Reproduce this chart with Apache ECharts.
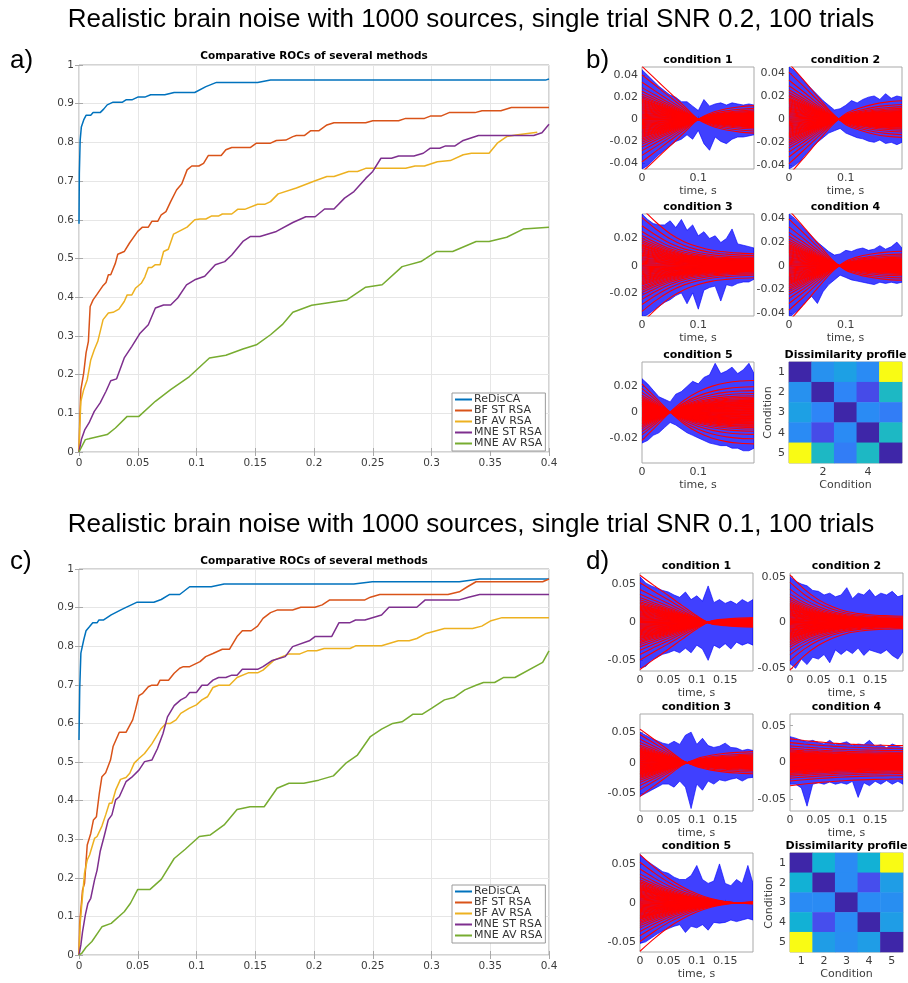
<!DOCTYPE html>
<html>
<head>
<meta charset="utf-8">
<script src="https://cdn.jsdelivr.net/npm/echarts@6/dist/echarts.min.js"></script>
<style>
  html, body { margin: 0; padding: 0; background: #fff; }
  #main { width: 908px; height: 983px; }
</style>
</head>
<body>
<div id="main"></div>
<script>
// ---------- data ----------
var methodNames = ['ReDisCA', 'BF ST RSA', 'BF AV RSA', 'MNE ST RSA', 'MNE AV RSA'];

// ROC curves, panel a (SNR 0.2)
var rocA_redisca = [[0,0.59],[0.0003,0.72],[0.001,0.806],[0.002,0.84],[0.004,0.858],[0.006,0.87],[0.01,0.87],[0.012,0.877],[0.018,0.877],[0.021,0.886],[0.024,0.897],[0.029,0.904],[0.037,0.904],[0.04,0.91],[0.045,0.91],[0.05,0.917],[0.056,0.917],[0.061,0.923],[0.073,0.923],[0.081,0.929],[0.0985,0.929],[0.108,0.944],[0.117,0.955],[0.152,0.955],[0.163,0.961],[0.397,0.961],[0.4,0.964]];
var rocA_bfst = [[0,0],[0.0006,0.075],[0.0016,0.161],[0.004,0.204],[0.006,0.256],[0.008,0.286],[0.0095,0.376],[0.012,0.393],[0.015,0.406],[0.02,0.428],[0.023,0.438],[0.025,0.458],[0.027,0.458],[0.031,0.488],[0.033,0.511],[0.0385,0.518],[0.043,0.54],[0.05,0.57],[0.054,0.581],[0.059,0.581],[0.062,0.596],[0.067,0.596],[0.07,0.613],[0.074,0.621],[0.078,0.647],[0.083,0.677],[0.0875,0.693],[0.092,0.729],[0.096,0.739],[0.102,0.739],[0.106,0.746],[0.11,0.766],[0.121,0.766],[0.125,0.781],[0.13,0.787],[0.146,0.787],[0.151,0.798],[0.163,0.798],[0.168,0.805],[0.176,0.806],[0.182,0.815],[0.185,0.818],[0.192,0.818],[0.197,0.83],[0.204,0.83],[0.211,0.845],[0.217,0.851],[0.244,0.851],[0.25,0.856],[0.272,0.856],[0.278,0.862],[0.294,0.862],[0.299,0.868],[0.308,0.868],[0.315,0.877],[0.337,0.877],[0.343,0.882],[0.359,0.882],[0.368,0.89],[0.4,0.89]];
var rocA_bfav = [[0,0],[0.0006,0.062],[0.0016,0.131],[0.004,0.161],[0.007,0.187],[0.01,0.238],[0.013,0.264],[0.016,0.286],[0.0205,0.342],[0.025,0.359],[0.029,0.361],[0.034,0.369],[0.0385,0.389],[0.041,0.406],[0.045,0.406],[0.048,0.423],[0.053,0.436],[0.056,0.452],[0.059,0.477],[0.062,0.477],[0.065,0.484],[0.069,0.484],[0.072,0.518],[0.076,0.524],[0.0805,0.563],[0.0875,0.574],[0.092,0.581],[0.0985,0.6],[0.103,0.602],[0.108,0.602],[0.113,0.61],[0.119,0.61],[0.122,0.615],[0.13,0.615],[0.135,0.627],[0.141,0.627],[0.152,0.64],[0.158,0.64],[0.163,0.647],[0.1695,0.667],[0.185,0.682],[0.201,0.701],[0.211,0.712],[0.217,0.712],[0.2295,0.725],[0.237,0.725],[0.244,0.733],[0.278,0.733],[0.286,0.739],[0.294,0.739],[0.305,0.75],[0.316,0.753],[0.327,0.768],[0.334,0.772],[0.349,0.772],[0.356,0.798],[0.364,0.815],[0.372,0.819],[0.39,0.826]];
var rocA_mnest = [[0,0],[0.002,0.032],[0.005,0.058],[0.0085,0.075],[0.013,0.105],[0.018,0.127],[0.023,0.157],[0.027,0.184],[0.032,0.189],[0.0385,0.243],[0.045,0.273],[0.052,0.307],[0.059,0.329],[0.065,0.372],[0.072,0.38],[0.078,0.38],[0.084,0.398],[0.0915,0.432],[0.0985,0.445],[0.107,0.454],[0.116,0.484],[0.124,0.492],[0.13,0.509],[0.1395,0.544],[0.146,0.557],[0.154,0.557],[0.168,0.57],[0.182,0.593],[0.193,0.608],[0.201,0.608],[0.209,0.628],[0.217,0.628],[0.226,0.656],[0.234,0.673],[0.244,0.707],[0.25,0.725],[0.257,0.759],[0.266,0.759],[0.272,0.765],[0.285,0.765],[0.293,0.772],[0.299,0.785],[0.307,0.785],[0.312,0.791],[0.32,0.791],[0.327,0.805],[0.34,0.818],[0.387,0.818],[0.394,0.825],[0.4,0.847]];
var rocA_mneav = [[0,0],[0.0054,0.032],[0.0085,0.034],[0.024,0.045],[0.031,0.062],[0.041,0.092],[0.051,0.092],[0.065,0.131],[0.078,0.161],[0.094,0.195],[0.111,0.243],[0.125,0.25],[0.1395,0.266],[0.151,0.277],[0.163,0.303],[0.173,0.329],[0.182,0.361],[0.198,0.379],[0.211,0.385],[0.228,0.393],[0.244,0.426],[0.258,0.432],[0.275,0.479],[0.291,0.492],[0.304,0.518],[0.318,0.518],[0.338,0.544],[0.349,0.544],[0.364,0.555],[0.378,0.576],[0.4,0.581]];

// ROC curves, panel c (SNR 0.1)
var rocC_redisca = [[0,0.557],[0.0006,0.687],[0.0016,0.782],[0.004,0.816],[0.006,0.84],[0.0085,0.849],[0.0117,0.861],[0.0155,0.861],[0.017,0.868],[0.021,0.868],[0.0274,0.881],[0.0369,0.896],[0.0495,0.914],[0.0637,0.914],[0.07,0.921],[0.0772,0.934],[0.0857,0.934],[0.0942,0.954],[0.1125,0.954],[0.1235,0.961],[0.2339,0.961],[0.2496,0.967],[0.3237,0.967],[0.341,0.974],[0.4,0.974]];
var rocC_bfst = [[0,0],[0.0006,0.082],[0.003,0.168],[0.0047,0.186],[0.007,0.285],[0.01,0.315],[0.0123,0.35],[0.0148,0.358],[0.0173,0.419],[0.0195,0.462],[0.0227,0.472],[0.0268,0.505],[0.029,0.54],[0.0343,0.577],[0.04,0.577],[0.0457,0.609],[0.048,0.635],[0.051,0.672],[0.0542,0.678],[0.059,0.695],[0.062,0.699],[0.0668,0.699],[0.069,0.712],[0.0762,0.712],[0.081,0.73],[0.0857,0.743],[0.0888,0.747],[0.0942,0.747],[0.103,0.76],[0.1078,0.773],[0.114,0.781],[0.122,0.792],[0.128,0.792],[0.1345,0.825],[0.139,0.84],[0.1465,0.84],[0.152,0.852],[0.1566,0.872],[0.163,0.887],[0.169,0.894],[0.1818,0.894],[0.1888,0.901],[0.2008,0.901],[0.207,0.907],[0.2134,0.92],[0.2433,0.92],[0.248,0.927],[0.256,0.934],[0.314,0.934],[0.3237,0.941],[0.3306,0.954],[0.3379,0.967],[0.3946,0.967],[0.4,0.974]];
var rocC_bfav = [[0,0],[0.001,0.082],[0.0022,0.125],[0.0047,0.212],[0.007,0.246],[0.009,0.259],[0.0132,0.302],[0.0154,0.307],[0.0195,0.334],[0.0227,0.363],[0.0258,0.393],[0.028,0.393],[0.0312,0.427],[0.0353,0.455],[0.04,0.46],[0.0432,0.471],[0.047,0.497],[0.051,0.509],[0.0558,0.522],[0.062,0.547],[0.07,0.587],[0.074,0.6],[0.0778,0.6],[0.0826,0.609],[0.0866,0.626],[0.0936,0.639],[0.0999,0.648],[0.1046,0.661],[0.1093,0.669],[0.114,0.693],[0.1188,0.699],[0.128,0.699],[0.1345,0.719],[0.144,0.731],[0.152,0.731],[0.1566,0.738],[0.166,0.764],[0.1787,0.78],[0.188,0.78],[0.1944,0.788],[0.2023,0.788],[0.2086,0.794],[0.2307,0.794],[0.2354,0.801],[0.2575,0.801],[0.2717,0.814],[0.281,0.814],[0.2875,0.82],[0.2955,0.833],[0.311,0.846],[0.3349,0.846],[0.3428,0.852],[0.3507,0.866],[0.3601,0.874],[0.4,0.874]];
var rocC_mnest = [[0,0],[0.0016,0.026],[0.003,0.06],[0.0054,0.104],[0.0076,0.134],[0.01,0.147],[0.0132,0.194],[0.0154,0.22],[0.018,0.268],[0.0217,0.311],[0.0249,0.35],[0.028,0.363],[0.0312,0.402],[0.0343,0.41],[0.04,0.449],[0.0447,0.46],[0.051,0.479],[0.0558,0.501],[0.062,0.505],[0.0668,0.535],[0.0715,0.574],[0.0753,0.617],[0.081,0.646],[0.0866,0.661],[0.091,0.668],[0.0942,0.68],[0.0999,0.68],[0.1046,0.699],[0.1093,0.699],[0.114,0.712],[0.1188,0.719],[0.125,0.719],[0.13,0.725],[0.1345,0.725],[0.139,0.74],[0.152,0.74],[0.1566,0.747],[0.1645,0.763],[0.1755,0.773],[0.1818,0.799],[0.196,0.814],[0.2008,0.825],[0.215,0.825],[0.2213,0.861],[0.2307,0.861],[0.2354,0.868],[0.2433,0.868],[0.2575,0.881],[0.2638,0.901],[0.2875,0.901],[0.2947,0.92],[0.3237,0.92],[0.3316,0.927],[0.341,0.934],[0.4,0.934]];
var rocC_mneav = [[0,0],[0.0022,0.004],[0.006,0.02],[0.011,0.035],[0.0195,0.073],[0.0274,0.082],[0.0385,0.112],[0.0438,0.134],[0.05,0.17],[0.0605,0.17],[0.07,0.196],[0.081,0.25],[0.0904,0.274],[0.1024,0.307],[0.1118,0.311],[0.1235,0.337],[0.1345,0.377],[0.1456,0.384],[0.1576,0.384],[0.1686,0.432],[0.1787,0.445],[0.1913,0.445],[0.204,0.453],[0.2165,0.464],[0.2275,0.498],[0.237,0.518],[0.248,0.566],[0.2575,0.585],[0.267,0.6],[0.2749,0.604],[0.2843,0.624],[0.2922,0.624],[0.3,0.639],[0.311,0.661],[0.319,0.667],[0.3284,0.687],[0.3379,0.699],[0.3442,0.706],[0.3537,0.706],[0.3615,0.719],[0.371,0.719],[0.3946,0.758],[0.4,0.788]];

// waveform panels: red fan = amplitude x time course, blue = noisy envelope
var fanTimes = [0, 0.025, 0.05, 0.075, 0.1, 0.125, 0.15, 0.175, 0.199];
var fanAmps = [1.0, 0.84, 0.7, 0.6, 0.53, 0.48, 0.44, 0.41, 0.38, 0.36, 0.34, 0.32, 0.3, 0.28, 0.26, 0.24, 0.22, 0.2, 0.18, 0.16, 0.14, 0.12, 0.1, 0.08, 0.06, 0.04, 0.02, 0.0, -0.02, -0.04, -0.06, -0.08, -0.1, -0.12, -0.14, -0.16, -0.18, -0.2, -0.22, -0.24, -0.26, -0.28, -0.3, -0.32, -0.34, -0.37, -0.4, -0.43, -0.47, -0.52, -0.59, -0.68, -0.8, -1.0];
var bandTimes = [0, 0.01, 0.02, 0.03, 0.04, 0.05, 0.06, 0.07, 0.08, 0.09, 0.1, 0.11, 0.12, 0.13, 0.14, 0.15, 0.16, 0.17, 0.18, 0.19, 0.199];

var tcB1 = [1, 0.75, 0.5, 0.25, 0, -0.13, -0.2, -0.24, -0.26];
var tcB2 = [1, 0.71, 0.41, 0.12, -0.1, -0.2, -0.27, -0.31, -0.33];
var tcB3 = [1, 0.76, 0.56, 0.42, 0.33, 0.27, 0.24, 0.22, 0.21];
var tcB4 = [1, 0.71, 0.41, 0.12, -0.08, -0.17, -0.22, -0.25, -0.26];
var tcB5 = [1, 0.5, 0, -0.42, -0.72, -0.92, -1.04, -1.1, -1.12];
var tcD1 = [1, 0.78, 0.57, 0.35, 0.14, -0.03, -0.07, -0.09, -0.1];
var tcD2 = [1, 0.7, 0.48, 0.33, 0.23, 0.18, 0.15, 0.14, 0.13];
var tcD3 = [1, 0.69, 0.38, 0.07, -0.12, -0.22, -0.28, -0.31, -0.33];
var tcD4 = [1, 0.93, 0.87, 0.82, 0.78, 0.75, 0.73, 0.72, 0.71];
var tcD5 = [1, 0.74, 0.51, 0.33, 0.19, 0.09, 0.03, 0.0, -0.02];
var fanScaleB = [0.048, 0.048, 0.042, 0.047, 0.022];
var fanScaleD = [0.062, 0.052, 0.055, 0.032, 0.062];

var upB1 = [0.045, 0.04, 0.035, 0.03, 0.026, 0.022, 0.02, 0.016, 0.016, 0.012, 0.008, 0.018, 0.012, 0.014, 0.015, 0.013, 0.015, 0.014, 0.013, 0.014, 0.013];
var loB1 = [-0.045, -0.042, -0.037, -0.032, -0.028, -0.024, -0.02, -0.018, -0.014, -0.018, -0.01, -0.022, -0.028, -0.016, -0.02, -0.022, -0.018, -0.016, -0.016, -0.015, -0.014];
var upB2 = [0.045, 0.042, 0.037, 0.031, 0.026, 0.021, 0.016, 0.012, 0.008, 0.009, 0.012, 0.016, 0.014, 0.017, 0.019, 0.02, 0.017, 0.022, 0.018, 0.02, 0.019];
var loB2 = [-0.043, -0.04, -0.036, -0.03, -0.025, -0.02, -0.016, -0.012, -0.01, -0.008, -0.012, -0.014, -0.016, -0.017, -0.019, -0.02, -0.018, -0.021, -0.02, -0.022, -0.02];
var upB3 = [0.038, 0.034, 0.031, 0.03, 0.03, 0.033, 0.028, 0.034, 0.026, 0.03, 0.022, 0.025, 0.02, 0.022, 0.017, 0.02, 0.027, 0.016, 0.015, 0.014, 0.013];
var loB3 = [-0.038, -0.036, -0.033, -0.03, -0.027, -0.025, -0.022, -0.02, -0.028, -0.02, -0.032, -0.018, -0.016, -0.015, -0.026, -0.014, -0.015, -0.013, -0.012, -0.012, -0.01];
var upB4 = [0.044, 0.04, 0.035, 0.03, 0.025, 0.02, 0.016, 0.012, 0.009, 0.01, 0.013, 0.012, 0.014, 0.015, 0.013, 0.014, 0.017, 0.014, 0.016, 0.02, 0.015];
var loB4 = [-0.044, -0.04, -0.036, -0.03, -0.026, -0.032, -0.022, -0.016, -0.012, -0.008, -0.01, -0.012, -0.013, -0.014, -0.015, -0.016, -0.014, -0.015, -0.014, -0.015, -0.014];
var upB5 = [0.026, 0.022, 0.017, 0.012, 0.01, 0.008, 0.014, 0.016, 0.02, 0.024, 0.022, 0.027, 0.029, 0.038, 0.03, 0.032, 0.035, 0.03, 0.033, 0.038, 0.03];
var loB5 = [-0.024, -0.022, -0.018, -0.016, -0.012, -0.008, -0.01, -0.013, -0.016, -0.018, -0.02, -0.022, -0.024, -0.025, -0.026, -0.026, -0.028, -0.028, -0.03, -0.03, -0.028];
var upD1 = [0.06, 0.052, 0.048, 0.045, 0.042, 0.04, 0.036, 0.033, 0.04, 0.03, 0.035, 0.028, 0.048, 0.026, 0.03, 0.025, 0.028, 0.024, 0.03, 0.026, 0.03];
var loD1 = [-0.06, -0.058, -0.05, -0.046, -0.042, -0.04, -0.037, -0.04, -0.034, -0.04, -0.03, -0.035, -0.05, -0.03, -0.034, -0.028, -0.035, -0.026, -0.03, -0.027, -0.03];
var upD2 = [0.05, 0.045, 0.042, 0.04, 0.035, 0.034, 0.03, 0.032, 0.028, 0.03, 0.038, 0.026, 0.032, 0.03, 0.036, 0.028, 0.032, 0.03, 0.034, 0.028, 0.03];
var loD2 = [-0.045, -0.05, -0.04, -0.046, -0.038, -0.04, -0.035, -0.044, -0.03, -0.035, -0.03, -0.034, -0.028, -0.036, -0.03, -0.032, -0.034, -0.03, -0.036, -0.04, -0.032];
var upD3 = [0.05, 0.045, 0.04, 0.036, 0.032, 0.03, 0.035, 0.03, 0.045, 0.05, 0.03, 0.04, 0.028, 0.025, 0.027, 0.032, 0.025, 0.024, 0.02, 0.022, 0.02];
var loD3 = [-0.055, -0.05, -0.045, -0.04, -0.035, -0.035, -0.04, -0.03, -0.04, -0.075, -0.035, -0.045, -0.03, -0.035, -0.028, -0.03, -0.027, -0.025, -0.03, -0.025, -0.024];
var upD4 = [0.035, 0.033, 0.03, 0.028, 0.03, 0.027, 0.025, 0.03, 0.024, 0.026, 0.028, 0.023, 0.025, 0.024, 0.03, 0.022, 0.024, 0.02, 0.025, 0.022, 0.02];
var loD4 = [-0.03, -0.03, -0.035, -0.06, -0.03, -0.028, -0.03, -0.027, -0.03, -0.028, -0.03, -0.026, -0.048, -0.028, -0.032, -0.026, -0.03, -0.025, -0.03, -0.026, -0.03];
var upD5 = [0.062, 0.055, 0.05, 0.045, 0.04, 0.038, 0.033, 0.03, 0.03, 0.035, 0.048, 0.03, 0.025, 0.028, 0.05, 0.025, 0.022, 0.03, 0.025, 0.048, 0.025];
var loD5 = [-0.052, -0.05, -0.045, -0.04, -0.036, -0.033, -0.03, -0.028, -0.038, -0.03, -0.032, -0.028, -0.035, -0.025, -0.026, -0.025, -0.022, -0.024, -0.022, -0.02, -0.022];

// axis limits and tick labels
var yLimB = [[-0.045, 0.0475], [-0.043, 0.045], [-0.037, 0.038], [-0.0426, 0.0438], [-0.0395, 0.039]];
var yLimD = [[-0.064, 0.065], [-0.053, 0.054], [-0.079, 0.0797], [-0.0666, 0.066], [-0.063, 0.064]];
var yTicksB = [[-0.04, -0.02, 0, 0.02, 0.04], [-0.04, -0.02, 0, 0.02, 0.04], [-0.02, 0, 0.02], [-0.04, -0.02, 0, 0.02, 0.04], [-0.02, 0, 0.02]];
var yTicksD = [-0.05, 0, 0.05];
var xTicksB = [0, 0.1];
var xTicksD = [0, 0.05, 0.1, 0.15];

// dissimilarity matrices
var condLabels = ['1', '2', '3', '4', '5'];
var dissimB = [
  [0, 0.32, 0.37, 0.3, 1],
  [0.32, 0, 0.28, 0.12, 0.47],
  [0.37, 0.28, 0, 0.3, 0.26],
  [0.3, 0.12, 0.3, 0, 0.47],
  [1, 0.47, 0.26, 0.47, 0]
];
var dissimD = [
  [0, 0.43, 0.3, 0.43, 1],
  [0.43, 0, 0.3, 0.13, 0.36],
  [0.3, 0.3, 0, 0.3, 0.31],
  [0.43, 0.13, 0.3, 0, 0.36],
  [1, 0.36, 0.31, 0.36, 0]
];

// ---------- style / layout ----------
var methodColors = ['#0072BD', '#D95319', '#EDB120', '#7E2F8E', '#77AC30'];
var parula = ['#3e26a8', '#4752f4', '#2d87f7', '#12b1d6', '#37c897', '#abc739', '#fec338', '#f9fb14'];
var FONT = 'DejaVu Sans';
var boxGray = '#a9a9a9', labelGray = '#3c3c3c';

var rocLayout = [
  {left: 79, top: 65, width: 470, height: 387},
  {left: 79, top: 569, width: 470, height: 386}
];
var layoutB = [
  {left: 642, top: 67, width: 112, height: 102},
  {left: 789, top: 67, width: 113, height: 102},
  {left: 642, top: 214, width: 112, height: 102},
  {left: 789, top: 214, width: 113, height: 102},
  {left: 642, top: 362, width: 112, height: 101},
  {left: 789, top: 362, width: 113, height: 101}
];
var layoutD = [
  {left: 640, top: 573, width: 113, height: 98},
  {left: 790, top: 573, width: 113, height: 98},
  {left: 640, top: 714, width: 113, height: 97},
  {left: 790, top: 714, width: 113, height: 97},
  {left: 640, top: 853, width: 113, height: 99},
  {left: 790, top: 853, width: 113, height: 99}
];

function fmt(v) { return String(+(+v).toFixed(4)); }

var grids = [], xAxes = [], yAxes = [], series = [], graphics = [], visualMaps = [];

function addGrid(l) {
  grids.push({left: l.left, top: l.top, width: l.width, height: l.height,
    show: true, borderColor: boxGray, borderWidth: 1, outerBoundsMode: 'none', containLabel: false});
  return grids.length - 1;
}

function addText(x, y, text, font, align) {
  graphics.push({type: 'text', x: x, y: y, silent: true,
    style: {text: text, font: font, fill: '#000', textAlign: align || 'center', align: align || 'center',
      textVerticalAlign: 'middle', verticalAlign: 'middle'}});
}

// ---------- ROC panels ----------
var rocSets = [
  [rocA_redisca, rocA_bfst, rocA_bfav, rocA_mnest, rocA_mneav],
  [rocC_redisca, rocC_bfst, rocC_bfav, rocC_mnest, rocC_mneav]
];
var legends = [];
var tickStyle = {inside: true, length: 4, lineStyle: {color: boxGray}};
rocSets.forEach(function (set, k) {
  var g = addGrid(rocLayout[k]);
  xAxes.push({gridIndex: g, type: 'value', min: 0, max: 0.4, interval: 0.05,
    axisLine: {show: false}, axisTick: tickStyle,
    axisLabel: {fontFamily: FONT, fontSize: 10.5, color: labelGray, margin: 6, formatter: fmt},
    splitLine: {show: true, lineStyle: {color: '#e6e6e6', width: 1}}});
  yAxes.push({gridIndex: g, type: 'value', min: 0, max: 1, interval: 0.1,
    axisLine: {show: false}, axisTick: tickStyle,
    axisLabel: {fontFamily: FONT, fontSize: 10.5, color: labelGray, margin: 5, formatter: fmt},
    splitLine: {show: true, lineStyle: {color: '#e6e6e6', width: 1}}});
  set.forEach(function (pts, m) {
    series.push({type: 'line', name: methodNames[m], xAxisIndex: xAxes.length - 1, yAxisIndex: yAxes.length - 1,
      data: pts, showSymbol: false, symbol: 'none', z: 3,
      lineStyle: {color: methodColors[m], width: 1.5}, itemStyle: {color: methodColors[m]}});
  });
  // mirrored ticks on the top and right sides of the box
  xAxes.push({gridIndex: g, type: 'value', position: 'top', min: 0, max: 0.4, interval: 0.05,
    axisLine: {show: false}, axisTick: tickStyle, axisLabel: {show: false}, splitLine: {show: false}});
  yAxes.push({gridIndex: g, type: 'value', position: 'right', min: 0, max: 1, interval: 0.1,
    axisLine: {show: false}, axisTick: tickStyle, axisLabel: {show: false}, splitLine: {show: false}});
  legends.push({data: methodNames, orient: 'vertical', left: 452, top: k === 0 ? 393 : 885,
    icon: 'rect', itemWidth: 17, itemHeight: 2, itemGap: 0, selectedMode: false,
    padding: [1, 3, 2, 3], backgroundColor: '#fff', borderColor: '#9a9a9a', borderWidth: 1,
    textStyle: {fontFamily: FONT, fontSize: 11, color: '#333', lineHeight: 10.3, padding: [0, 0, 0, -3]}, z: 10});
  addText(rocLayout[k].left + rocLayout[k].width / 2, k === 0 ? 56 : 561,
    'Comparative ROCs of several methods', 'bold 10.5px "DejaVu Sans"');
});

// ---------- waveform panels ----------
function addWavePanel(layout, lim, yTicks, xTicks, up, lo, tc, scale, title) {
  var g = addGrid(layout);
  xAxes.push({gridIndex: g, type: 'value', min: 0, max: 0.199,
    axisLine: {show: false},
    axisTick: {customValues: xTicks, inside: true, length: 3, lineStyle: {color: boxGray}},
    axisLabel: {customValues: xTicks, fontFamily: FONT, fontSize: 11, color: labelGray, margin: 4, formatter: fmt},
    splitLine: {show: false},
    name: 'time, s', nameLocation: 'middle', nameGap: 17,
    nameTextStyle: {fontFamily: FONT, fontSize: 11, color: labelGray}});
  yAxes.push({gridIndex: g, type: 'value', min: lim[0], max: lim[1],
    axisLine: {show: false},
    axisTick: {customValues: yTicks, inside: true, length: 3, lineStyle: {color: boxGray}},
    axisLabel: {customValues: yTicks, fontFamily: FONT, fontSize: 11, color: labelGray, margin: 4, formatter: fmt},
    splitLine: {show: false}});
  var xi = xAxes.length - 1, yi = yAxes.length - 1;
  // blue single-trial envelope
  series.push({type: 'custom', xAxisIndex: xi, yAxisIndex: yi, clip: true, silent: true, z: 1,
    data: [[0, 0]],
    renderItem: function (params, api) {
      var pts = [];
      for (var i = 0; i < bandTimes.length; i++) pts.push(api.coord([bandTimes[i], up[i]]));
      for (var j = bandTimes.length - 1; j >= 0; j--) pts.push(api.coord([bandTimes[j], lo[j]]));
      return {type: 'polygon', shape: {points: pts},
        style: {fill: 'rgba(10,10,255,0.78)', stroke: 'rgba(0,0,255,0.9)', lineWidth: 0.7}};
    }});
  // red averaged traces
  fanAmps.forEach(function (a) {
    series.push({type: 'line', xAxisIndex: xi, yAxisIndex: yi, silent: true, z: 2,
      symbol: 'none', showSymbol: false, smooth: 0.3, clip: true,
      data: fanTimes.map(function (t, i) { return [t, scale * a * tc[i]]; }),
      lineStyle: {color: '#ff0000', width: 1.1}});
  });
  addText(layout.left + layout.width / 2, layout.top - 7, title, 'bold 11px "DejaVu Sans"');
}

function addHeatPanel(layout, matrix, showAllX) {
  var g = addGrid(layout);
  var everyOther = function (i) { return i === 1 || i === 3; };
  xAxes.push({gridIndex: g, type: 'category', data: condLabels,
    axisLine: {show: false},
    axisTick: {alignWithLabel: true, inside: true, length: 3, interval: showAllX ? 0 : everyOther, lineStyle: {color: boxGray}},
    axisLabel: {interval: showAllX ? 0 : everyOther, fontFamily: FONT, fontSize: 11, color: labelGray, margin: 4},
    splitLine: {show: false},
    name: 'Condition', nameLocation: 'middle', nameGap: 17,
    nameTextStyle: {fontFamily: FONT, fontSize: 11, color: labelGray}});
  yAxes.push({gridIndex: g, type: 'category', data: condLabels, inverse: true,
    axisLine: {show: false},
    axisTick: {alignWithLabel: true, inside: true, length: 3, lineStyle: {color: boxGray}},
    axisLabel: {fontFamily: FONT, fontSize: 11, color: labelGray, margin: 4},
    splitLine: {show: false},
    name: 'Condition', nameLocation: 'middle', nameGap: 12, nameRotate: 90,
    nameTextStyle: {fontFamily: FONT, fontSize: 11, color: labelGray}});
  var cells = [];
  matrix.forEach(function (row, r) {
    row.forEach(function (v, c) { cells.push([c, r, v]); });
  });
  series.push({type: 'heatmap', xAxisIndex: xAxes.length - 1, yAxisIndex: yAxes.length - 1,
    data: cells, silent: true, z: 1, itemStyle: {borderWidth: 0}});
  visualMaps.push({type: 'continuous', min: 0, max: 1, show: false, seriesIndex: series.length - 1,
    inRange: {color: parula}});
  addText(layout.left + layout.width / 2, layout.top - 7, 'Dissimilarity profile', 'bold 11px "DejaVu Sans"');
}

var tcB = [tcB1, tcB2, tcB3, tcB4, tcB5], upB = [upB1, upB2, upB3, upB4, upB5], loB = [loB1, loB2, loB3, loB4, loB5];
var tcD = [tcD1, tcD2, tcD3, tcD4, tcD5], upD = [upD1, upD2, upD3, upD4, upD5], loD = [loD1, loD2, loD3, loD4, loD5];
for (var i = 0; i < 5; i++) {
  addWavePanel(layoutB[i], yLimB[i], yTicksB[i], xTicksB, upB[i], loB[i], tcB[i], fanScaleB[i], 'condition ' + (i + 1));
}
addHeatPanel(layoutB[5], dissimB, false);
for (var k = 0; k < 5; k++) {
  addWavePanel(layoutD[k], yLimD[k], yTicksD, xTicksD, upD[k], loD[k], tcD[k], fanScaleD[k], 'condition ' + (k + 1));
}
addHeatPanel(layoutD[5], dissimD, true);

// figure titles and panel letters
addText(471, 20, 'Realistic brain noise with 1000 sources, single trial SNR 0.2, 100 trials', '26px "Liberation Sans"');
addText(471, 525, 'Realistic brain noise with 1000 sources, single trial SNR 0.1, 100 trials', '26px "Liberation Sans"');
addText(10, 61, 'a)', '26px "Liberation Sans"', 'left');
addText(586, 61, 'b)', '26px "Liberation Sans"', 'left');
addText(10, 562, 'c)', '26px "Liberation Sans"', 'left');
addText(586, 562, 'd)', '26px "Liberation Sans"', 'left');

var chart = echarts.init(document.getElementById('main'), null, {renderer: 'canvas', width: 908, height: 983});
chart.setOption({
  backgroundColor: '#fff',
  animation: false,
  grid: grids,
  xAxis: xAxes,
  yAxis: yAxes,
  legend: legends,
  visualMap: visualMaps,
  graphic: graphics,
  series: series
});
</script>
</body>
</html>
